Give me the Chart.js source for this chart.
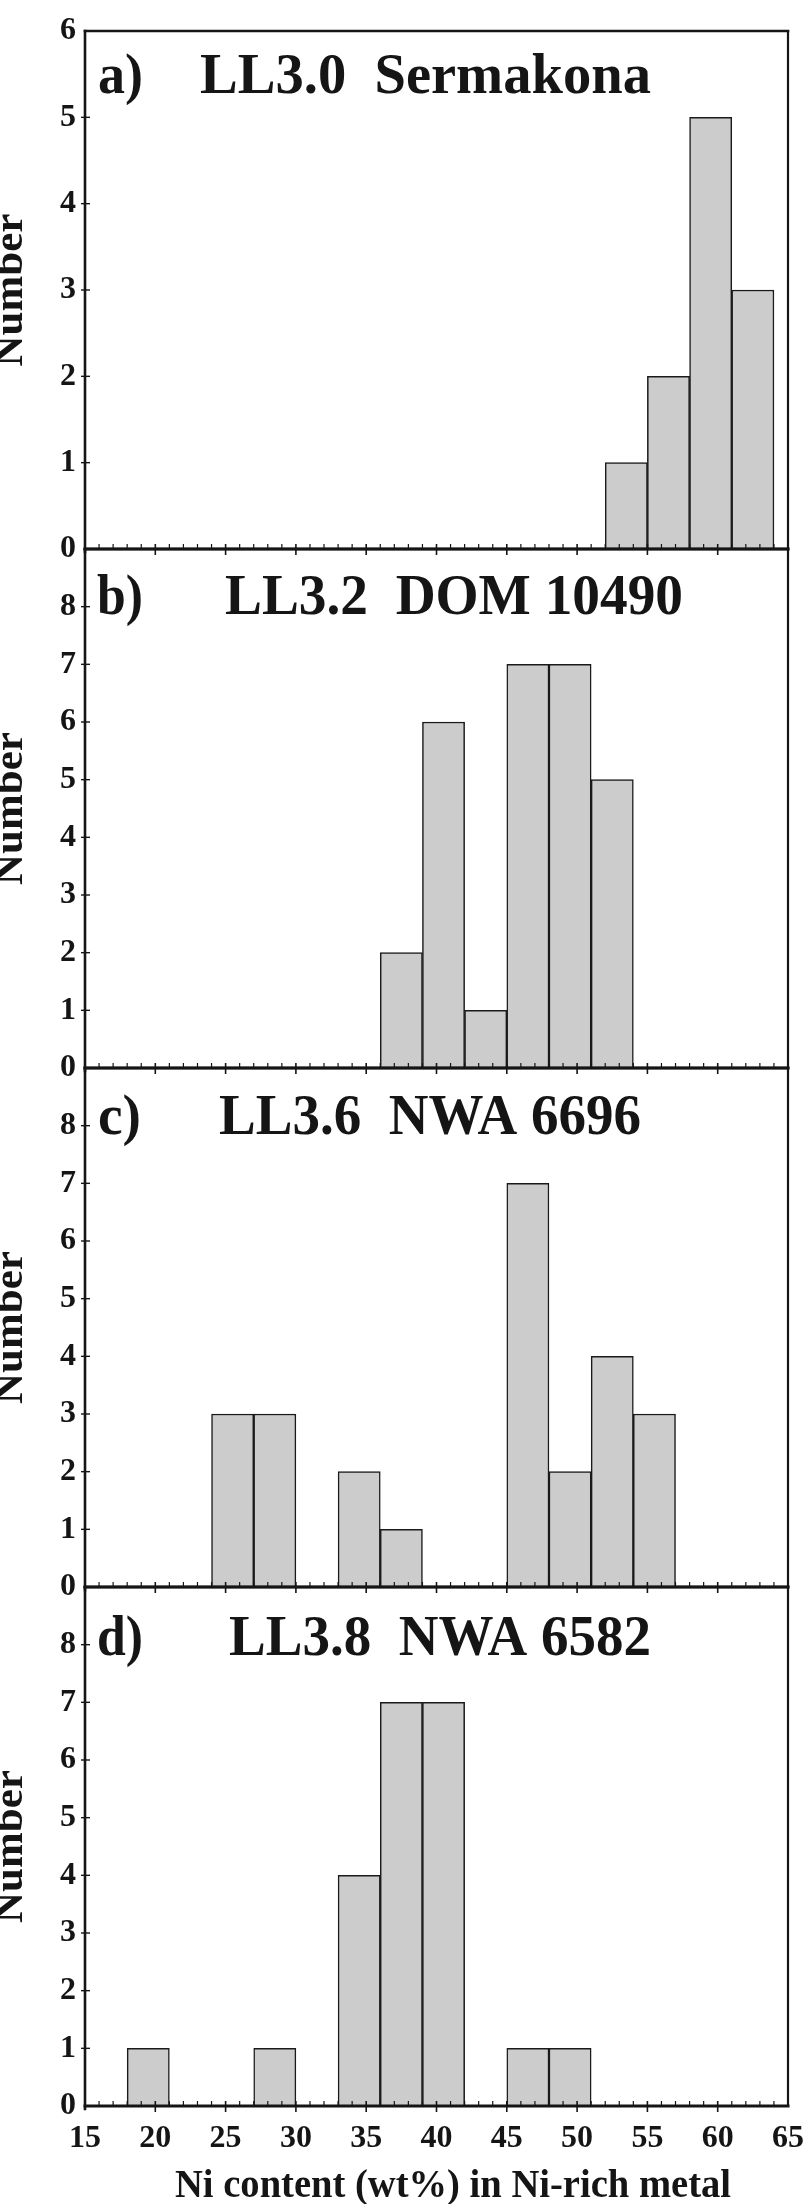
<!DOCTYPE html>
<html><head><meta charset="utf-8">
<script src="https://cdn.jsdelivr.net/npm/chart.js@4/dist/chart.umd.min.js"></script>
<style>
html,body{margin:0;padding:0;background:#fff;}
body{width:807px;height:2204px;position:relative;overflow:hidden;}
canvas{position:absolute;left:0;}
</style></head><body>
<canvas id="pa"></canvas><canvas id="pb"></canvas><canvas id="pc"></canvas><canvas id="pd"></canvas>
<script>
// ---------- data ----------
const binWidth = 3;                       // wt% per histogram bin
const xTickLabels = [15,20,25,30,35,40,45,50,55,60,65];
const binsA = [52,55,58,61];              // lower bin edges, Ni wt%
const countsA = [1,2,5,3];
const binsB = [36,39,42,45,48,51];
const countsB = [2,6,1,7,7,5];
const binsC = [24,27,33,36,45,48,51,54];
const countsC = [3,3,2,1,7,2,4,3];
const binsD = [18,27,33,36,39,45,48];
const countsD = [1,1,4,7,7,1,1];
const panelLabels = ['a)','b)','c)','d)'];
const panelTitles = ['LL3.0  Sermakona','LL3.2  DOM 10490','LL3.6  NWA 6696','LL3.8  NWA 6582'];
const yMaxes = [6,9,9,9];
const yTitle = 'Number';
const xTitle = 'Ni content (wt%) in Ni-rich metal';

// ---------- layout ----------
const PAGE_W = 807;
const panelBox = [ {top:31,bottom:549}, {top:549,bottom:1068}, {top:1068,bottom:1587}, {top:1587,bottom:2106} ];
const labelLayout = [ {base:62, left:98, w:45, tLeft:200, tW:451},
                      {base:65, left:97, w:46, tLeft:225, tW:458},
                      {base:66, left:98, w:43, tLeft:219, tW:422},
                      {base:68, left:97, w:46, tLeft:229, tW:422} ];
const FONT = "'Liberation Serif','Times New Roman',serif";
const INK = '#151515';

function stretchText(ctx, text, x, y, font, targetW){
  ctx.save();
  ctx.font = font;
  const w = ctx.measureText(text).width;
  ctx.translate(x, y);
  ctx.scale(targetW ? targetW / w : 1, 1);
  ctx.textAlign = 'left';
  ctx.textBaseline = 'alphabetic';
  ctx.fillText(text, 0, 0);
  ctx.restore();
}

function framePlugin(idx, isLast){
  return {
    id: 'frame'+idx,
    afterDatasetsDraw(chart){
      const ctx = chart.ctx, a = chart.chartArea;
      const xs = chart.scales.x, ys = chart.scales.y;
      ctx.save();
      ctx.strokeStyle = INK; ctx.lineCap = 'square';
      // frame
      ctx.lineWidth = 2.6;
      ctx.beginPath(); ctx.moveTo(a.left, a.top); ctx.lineTo(a.right, a.top); ctx.stroke();
      ctx.beginPath(); ctx.moveTo(a.left, a.top); ctx.lineTo(a.left, a.bottom + 3); ctx.stroke();
      ctx.lineWidth = 2.2;
      ctx.beginPath(); ctx.moveTo(a.right, a.top); ctx.lineTo(a.right, a.bottom); ctx.stroke();
      ctx.lineWidth = 3;
      ctx.beginPath(); ctx.moveTo(a.left, a.bottom); ctx.lineTo(a.right, a.bottom); ctx.stroke();
      // minor x ticks (inside)
      ctx.lineWidth = 1.2; ctx.lineCap = 'butt';
      for (let v = xs.min + 1; v < xs.max; v++) {
        if (v % 5 === 0) continue;
        const px = xs.getPixelForValue(v);
        ctx.beginPath(); ctx.moveTo(px, a.bottom); ctx.lineTo(px, a.bottom - 5); ctx.stroke();
      }
      // major x ticks (crossing)
      ctx.lineWidth = 1.6;
      xTickLabels.forEach(v => {
        if (v === xs.min || v === xs.max) return;
        const px = xs.getPixelForValue(v);
        ctx.beginPath(); ctx.moveTo(px, a.bottom + 6); ctx.lineTo(px, a.bottom - 5); ctx.stroke();
      });
      // y ticks (crossing)
      ctx.lineWidth = 1.4;
      for (let v = ys.min + 1; v < ys.max; v++) {
        const py = ys.getPixelForValue(v);
        ctx.beginPath(); ctx.moveTo(a.left - 4, py); ctx.lineTo(a.left + 5, py); ctx.stroke();
      }
      // panel label and title
      ctx.fillStyle = INK;
      const L = labelLayout[idx];
      const tfont = "bold 56px " + FONT;
      stretchText(ctx, panelLabels[idx], L.left, a.top + L.base, tfont, L.w);
      stretchText(ctx, panelTitles[idx], L.tLeft, a.top + L.base, tfont, L.tW);
      // y axis title
      ctx.save();
      ctx.font = "bold 43px " + FONT;
      ctx.textAlign = 'center'; ctx.textBaseline = 'alphabetic';
      ctx.translate(22, (a.top + a.bottom) / 2);
      ctx.rotate(-Math.PI / 2);
      ctx.fillText(yTitle, 0, 0);
      ctx.restore();
      // x axis title
      if (isLast) {
        stretchText(ctx, xTitle, 175, a.bottom + 91, "bold 39px " + FONT, 556);
      }
      ctx.restore();
    }
  };
}

function makePanel(id, idx, bins, counts){
  const box = panelBox[idx];
  const isLast = idx === panelBox.length - 1;
  const padTop = Math.min(40, box.top);
  const H = (box.bottom - box.top) + padTop + 98;
  const cv = document.getElementById(id);
  cv.width = PAGE_W; cv.height = H;
  cv.style.width = PAGE_W + 'px'; cv.style.height = H + 'px';
  cv.style.top = (box.top - padTop) + 'px';
  const yMax = yMaxes[idx];
  new Chart(cv, {
    type: 'bar',
    data: {
      datasets: [{
        data: bins.map((b, i) => ({x: b + binWidth / 2, y: counts[i]})),
        backgroundColor: '#cccccc',
        borderColor: '#1a1a1a',
        borderWidth: 1.5,
        barPercentage: 1,
        categoryPercentage: 1
      }]
    },
    options: {
      responsive: false, animation: false, devicePixelRatio: 1,
      layout: {padding: {top: padTop, right: PAGE_W - 788, left: 0, bottom: 0}},
      plugins: {legend: {display: false}, tooltip: {enabled: false}, title: {display: false}},
      scales: {
        x: {
          type: 'linear', min: xTickLabels[0], max: xTickLabels[xTickLabels.length - 1], offset: false,
          grid: {display: false, drawTicks: false, offset: false}, border: {display: false},
          ticks: {display: isLast, stepSize: 5, autoSkip: false, maxRotation: 0, padding: 14,
                  color: INK, font: {family: FONT, weight: 'bold', size: 32}},
          afterFit: s => { s.height = 98; s.paddingLeft = 0; s.paddingRight = 0; }
        },
        y: {
          min: 0, max: yMax,
          grid: {display: false, drawTicks: false}, border: {display: false},
          ticks: {stepSize: 1, padding: 9, color: INK, font: {family: FONT, weight: 'bold', size: 32},
                  callback: v => (idx > 0 && v === yMax) ? '' : String(v)},
          afterFit: s => { s.width = 85; s.paddingTop = 0; s.paddingBottom = 0; }
        }
      }
    },
    plugins: [framePlugin(idx, isLast)]
  });
}

makePanel('pa', 0, binsA, countsA);
makePanel('pb', 1, binsB, countsB);
makePanel('pc', 2, binsC, countsC);
makePanel('pd', 3, binsD, countsD);
</script>
</body></html>
